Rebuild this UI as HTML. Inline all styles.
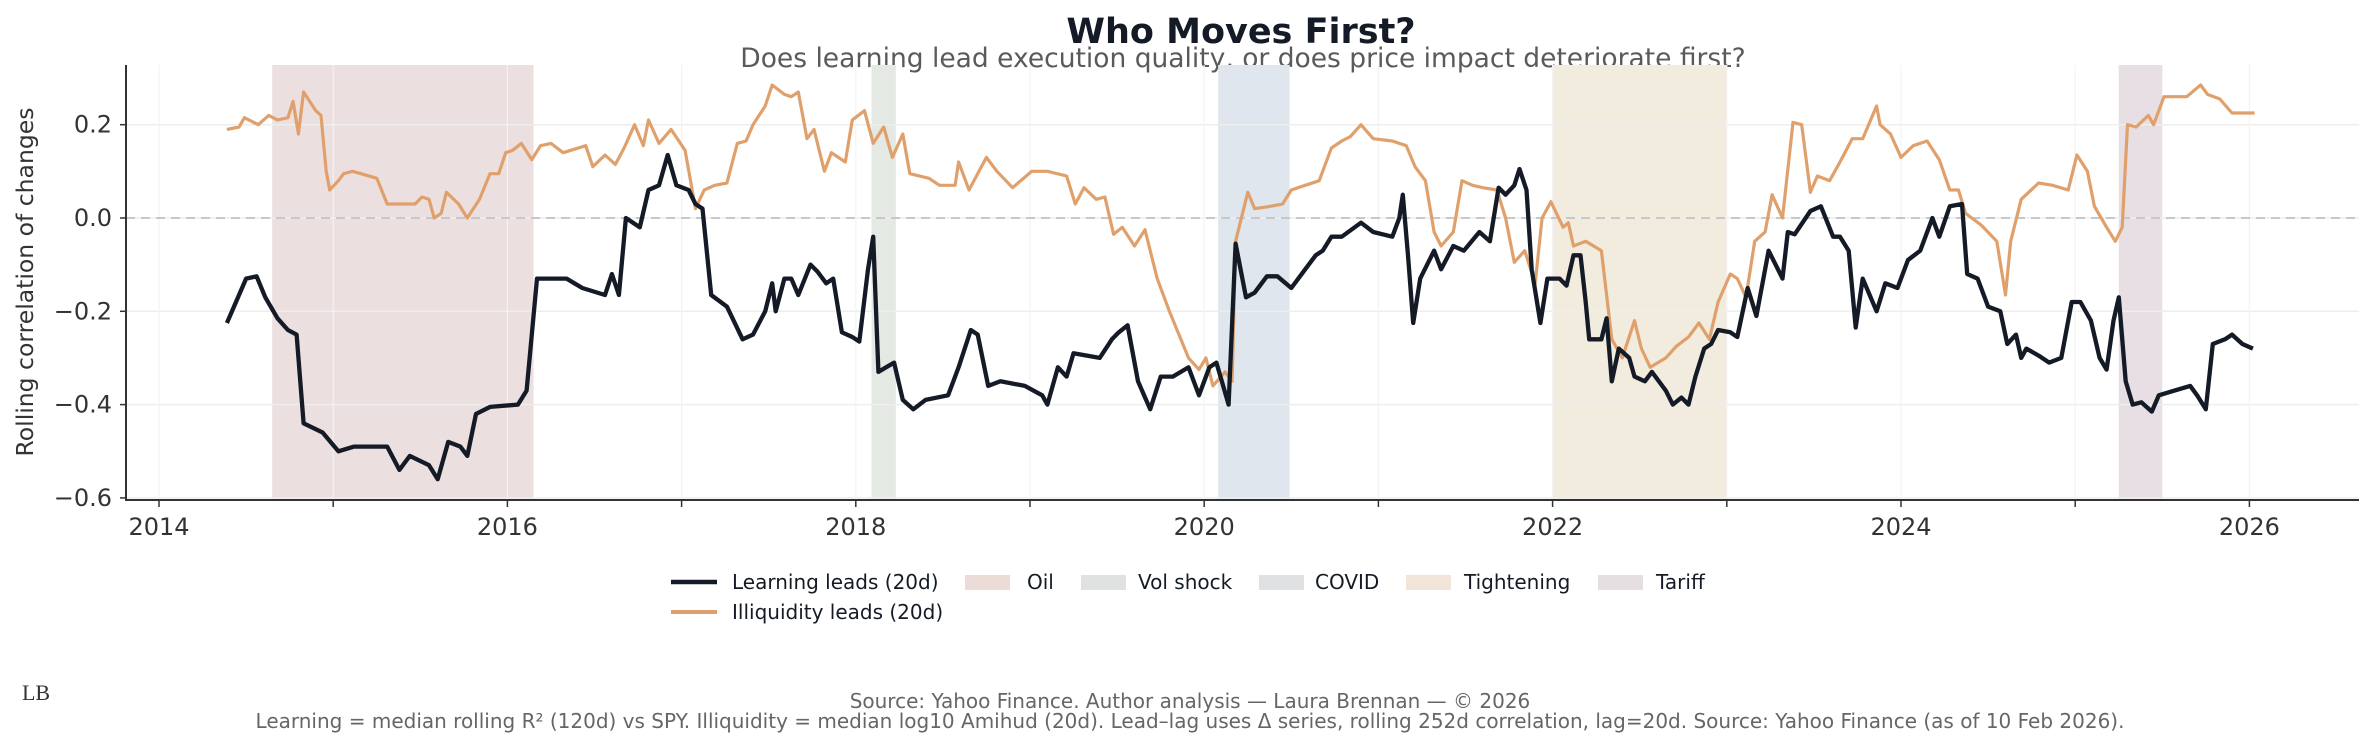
<!DOCTYPE html>
<html><head><meta charset="utf-8"><style>
html,body{margin:0;padding:0;background:#fff;}
svg{display:block;font-family:"DejaVu Sans","Liberation Sans",sans-serif;}
</style></head><body>
<svg id="chart" width="2376" height="746" viewBox="0 0 2376 746" xmlns="http://www.w3.org/2000/svg">
<rect width="2376" height="746" fill="#fff"/>
<text x="1241" y="43" text-anchor="middle" font-size="35" font-weight="bold" fill="#151b26">Who Moves First?</text>
<text x="1243" y="67" text-anchor="middle" font-size="26.5" fill="#5a5a5a">Does learning lead execution quality, or does price impact deteriorate first?</text>
<g id="shades"></g>
<g id="grid"></g>
<line x1="126" x2="2359" y1="218" y2="218" stroke="#c6c8cc" stroke-width="2" stroke-dasharray="9,6"/>
<g id="series"></g>
<line x1="126" x2="126" y1="65" y2="501" stroke="#333" stroke-width="2"/>
<line x1="125" x2="2359" y1="500" y2="500" stroke="#333" stroke-width="2"/>
<g id="yticks"></g>
<g id="xticks"></g>
<text transform="translate(33,282) rotate(-90)" text-anchor="middle" font-size="23.5" fill="#333">Rolling correlation of changes</text>
<g font-size="20" fill="#151b26">
 <g><line x1="671" x2="717" y1="582" y2="582" stroke="#151b26" stroke-width="4.5"/><text x="732" y="589">Learning leads (20d)</text></g>
 <g><line x1="671" x2="717" y1="612" y2="612" stroke="#e0a06c" stroke-width="4"/><text x="732" y="619">Illiquidity leads (20d)</text></g>
 <g><rect x="965" y="575" width="45" height="15" fill="#ecdcd7"/><text x="1027" y="589">Oil</text></g>
 <g><rect x="1081" y="575" width="45" height="15" fill="#e0e2e1"/><text x="1138" y="589">Vol shock</text></g>
 <g><rect x="1259" y="575" width="45" height="15" fill="#dfe1e2"/><text x="1315" y="589">COVID</text></g>
 <g><rect x="1406" y="575" width="45" height="15" fill="#f1e4d8"/><text x="1464" y="589">Tightening</text></g>
 <g><rect x="1598" y="575" width="45" height="15" fill="#e6dfe1"/><text x="1656" y="589">Tariff</text></g>
</g>
<text x="36" y="700" text-anchor="middle" font-family="Liberation Serif,serif" font-size="22" fill="#333">LB</text>
<text x="1190" y="708" text-anchor="middle" font-size="20" fill="#666">Source: Yahoo Finance. Author analysis — Laura Brennan — © 2026</text>
<text x="1190" y="728" text-anchor="middle" font-size="20" fill="#666">Learning = median rolling R² (120d) vs SPY. Illiquidity = median log10 Amihud (20d). Lead–lag uses Δ series, rolling 252d correlation, lag=20d. Source: Yahoo Finance (as of 10 Feb 2026).</text>
</svg>
<script>
const yTickValues=[-0.6,-0.4,-0.2,0.0,0.2];
const yTickLabels=["−0.6","−0.4","−0.2","0.0","0.2"];
const xTickYears=[2014,2015,2016,2017,2018,2019,2020,2021,2022,2023,2024,2025,2026];
const xLabelYears=[2014,2016,2018,2020,2022,2024,2026];
const eventNames=["oil","vol-shock","covid","tightening","tariff"];
const eventStarts=[2014.65,2018.09,2020.08,2022.0,2025.25];
const eventEnds=[2016.15,2018.23,2020.49,2023.0,2025.5];
const eventColors=["#ecdfdf","#e4e9e3","#dfe6ed","#f2ecdf","#e8dfe4"];
const learnYearsSince2014=[.39,.50,.56,.61,.68,.74,.79,.83,.94,1.03,1.12,1.31,1.38,1.44,1.55,1.60,1.66,1.73,1.77,1.82,1.90,2.06,2.11,2.17,2.34,2.43,2.56,2.60,2.64,2.68,2.76,2.81,2.87,2.92,2.97,3.04,3.08,3.12,3.17,3.26,3.35,3.41,3.48,3.52,3.54,3.59,3.63,3.67,3.74,3.78,3.83,3.87,3.92,3.98,4.02,4.07,4.10,4.13,4.22,4.27,4.33,4.40,4.53,4.59,4.66,4.70,4.76,4.83,4.97,5.07,5.10,5.16,5.21,5.25,5.40,5.47,5.51,5.56,5.62,5.69,5.75,5.82,5.91,5.97,6.03,6.07,6.14,6.18,6.24,6.29,6.36,6.42,6.50,6.58,6.64,6.68,6.73,6.79,6.90,6.97,7.08,7.12,7.14,7.17,7.20,7.24,7.32,7.36,7.43,7.49,7.58,7.64,7.69,7.73,7.78,7.81,7.85,7.88,7.93,7.97,8.04,8.08,8.12,8.16,8.19,8.21,8.28,8.31,8.34,8.38,8.44,8.47,8.53,8.57,8.65,8.69,8.74,8.78,8.82,8.87,8.91,8.95,9.02,9.06,9.12,9.17,9.24,9.30,9.32,9.35,9.39,9.48,9.54,9.61,9.65,9.70,9.74,9.78,9.86,9.91,9.98,10.04,10.11,10.18,10.22,10.28,10.35,10.38,10.44,10.50,10.57,10.61,10.66,10.69,10.72,10.79,10.85,10.92,10.98,11.03,11.09,11.14,11.18,11.22,11.25,11.29,11.33,11.38,11.44,11.48,11.57,11.66,11.70,11.75,11.79,11.86,11.90,11.96,12.02];
const learnValues=[-.225,-.13,-.125,-.17,-.215,-.24,-.25,-.44,-.46,-.5,-.49,-.49,-.54,-.51,-.53,-.56,-.48,-.49,-.51,-.42,-.405,-.4,-.37,-.13,-.13,-.15,-.165,-.12,-.165,0,-.02,.06,.07,.135,.07,.06,.03,.02,-.165,-.19,-.26,-.25,-.2,-.14,-.2,-.13,-.13,-.165,-.10,-.115,-.14,-.13,-.245,-.255,-.265,-.11,-.04,-.33,-.31,-.39,-.41,-.39,-.38,-.32,-.24,-.25,-.36,-.35,-.36,-.38,-.4,-.32,-.34,-.29,-.3,-.26,-.245,-.23,-.35,-.41,-.34,-.34,-.32,-.38,-.32,-.31,-.40,-.055,-.17,-.16,-.125,-.125,-.15,-.11,-.08,-.07,-.04,-.04,-.01,-.03,-.04,0,.05,-.08,-.225,-.13,-.07,-.11,-.06,-.07,-.03,-.05,.065,.05,.07,.105,.06,-.11,-.225,-.13,-.13,-.145,-.08,-.08,-.18,-.26,-.26,-.215,-.35,-.28,-.3,-.34,-.35,-.33,-.37,-.4,-.385,-.4,-.34,-.28,-.27,-.24,-.245,-.255,-.15,-.21,-.07,-.115,-.13,-.03,-.035,.015,.025,-.04,-.04,-.07,-.235,-.13,-.2,-.14,-.15,-.09,-.07,0,-.04,.025,.03,-.12,-.13,-.19,-.2,-.27,-.25,-.3,-.28,-.295,-.31,-.3,-.18,-.18,-.22,-.3,-.325,-.22,-.17,-.35,-.4,-.395,-.415,-.38,-.37,-.36,-.38,-.41,-.27,-.26,-.25,-.27,-.28];
const illiqYearsSince2014=[.39,.46,.49,.57,.63,.68,.74,.77,.80,.83,.90,.93,.96,.98,1.03,1.06,1.11,1.16,1.25,1.31,1.38,1.47,1.51,1.55,1.58,1.62,1.65,1.72,1.77,1.84,1.90,1.95,1.99,2.03,2.08,2.14,2.19,2.25,2.32,2.45,2.49,2.56,2.62,2.67,2.73,2.78,2.81,2.87,2.94,3.02,3.08,3.13,3.19,3.26,3.32,3.37,3.41,3.48,3.52,3.59,3.63,3.67,3.72,3.76,3.82,3.86,3.94,3.98,4.05,4.10,4.16,4.21,4.27,4.31,4.42,4.48,4.57,4.59,4.65,4.75,4.81,4.90,5.01,5.10,5.21,5.26,5.31,5.38,5.43,5.48,5.53,5.60,5.66,5.73,5.80,5.91,5.97,6.01,6.05,6.12,6.16,6.18,6.25,6.29,6.38,6.45,6.50,6.58,6.66,6.73,6.79,6.84,6.90,6.97,7.08,7.16,7.21,7.27,7.32,7.36,7.43,7.48,7.54,7.60,7.68,7.73,7.78,7.84,7.90,7.94,7.99,8.06,8.09,8.12,8.19,8.28,8.34,8.40,8.47,8.51,8.56,8.65,8.71,8.78,8.84,8.90,8.95,9.02,9.06,9.11,9.16,9.22,9.26,9.32,9.38,9.43,9.48,9.52,9.59,9.65,9.72,9.78,9.86,9.88,9.94,10.00,10.07,10.15,10.22,10.28,10.33,10.37,10.46,10.55,10.60,10.63,10.69,10.79,10.87,10.96,11.01,11.07,11.11,11.18,11.23,11.27,11.30,11.35,11.42,11.45,11.51,11.64,11.72,11.76,11.83,11.90,11.96,12.03];
const illiqValues=[.19,.195,.215,.2,.22,.21,.215,.25,.18,.27,.23,.22,.1,.06,.08,.095,.1,.095,.085,.03,.03,.03,.045,.04,0,.01,.055,.03,0,.04,.095,.095,.14,.145,.16,.125,.155,.16,.14,.155,.11,.135,.115,.15,.2,.155,.21,.16,.19,.145,.02,.06,.07,.075,.16,.165,.2,.24,.285,.265,.26,.27,.17,.19,.1,.14,.12,.21,.23,.16,.195,.13,.18,.095,.085,.07,.07,.12,.06,.13,.1,.065,.1,.1,.09,.03,.065,.04,.045,-.035,-.02,-.06,-.025,-.13,-.2,-.3,-.325,-.3,-.36,-.33,-.35,-.05,.055,.02,.025,.03,.06,.07,.08,.15,.165,.175,.2,.17,.165,.155,.11,.08,-.03,-.06,-.03,.08,.07,.065,.06,0,-.095,-.07,-.14,0,.035,-.02,-.01,-.06,-.05,-.07,-.26,-.3,-.22,-.28,-.32,-.3,-.275,-.255,-.225,-.26,-.18,-.12,-.13,-.17,-.05,-.03,.05,0,.205,.2,.055,.09,.08,.12,.17,.17,.24,.2,.18,.13,.155,.165,.125,.06,.06,.01,-.015,-.05,-.165,-.05,.04,.075,.07,.06,.135,.1,.025,-.02,-.05,-.02,.2,.195,.22,.2,.26,.26,.285,.265,.255,.225,.225,.225];

const NS="http://www.w3.org/2000/svg";
const X0=126,X1=2359,Y0=65,Y1=500;
function xScale(yr){return 159+(yr-2014)*174.2;}
function yScale(v){return 218-v*466.5;}
function mk(tag,attrs,parent){const e=document.createElementNS(NS,tag);for(const k in attrs)e.setAttribute(k,attrs[k]);parent.appendChild(e);return e;}

const shades=document.getElementById('shades');
eventNames.forEach((n,i)=>{
  const r=mk('rect',{x:xScale(eventStarts[i]),y:Y0,width:xScale(eventEnds[i])-xScale(eventStarts[i]),height:Y1-Y0,fill:eventColors[i]},shades);
  
  
});
const grid=document.getElementById('grid');
yTickValues.forEach(v=>{
  const l=mk('line',{x1:X0,x2:X1,y1:yScale(v),y2:yScale(v),stroke:'#eeeeee','stroke-width':1.5},grid);
  
  
});
xTickYears.forEach(y=>{
  const l=mk('line',{x1:xScale(y),x2:xScale(y),y1:Y0,y2:Y1,stroke:'#f3f3f3','stroke-width':1.2},grid);
  
  
});
const yt=document.getElementById('yticks');
yTickValues.forEach((v,i)=>{
  const t=mk('line',{x1:120,x2:126,y1:yScale(v),y2:yScale(v),stroke:'#333','stroke-width':1.5},yt);
  
  
  const tx=mk('text',{x:112,y:yScale(v)+8,'text-anchor':'end','font-size':24,fill:'#333'},yt);
  tx.textContent=yTickLabels[i];
  
  
});
const xt=document.getElementById('xticks');
xTickYears.forEach(y=>{
  const t=mk('line',{x1:xScale(y),x2:xScale(y),y1:500,y2:507,stroke:'#333','stroke-width':1.5},xt);
  
  
});
xLabelYears.forEach(y=>{
  const tx=mk('text',{x:xScale(y),y:535,'text-anchor':'middle','font-size':24,fill:'#333'},xt);
  tx.textContent=String(y);
  
  
});
function linePath(xs,vs){return xs.map((x,i)=>(i?'L':'M')+xScale(2014+x).toFixed(1)+','+yScale(vs[i]).toFixed(1)).join('');}
const ser=document.getElementById('series');
const p1=mk('path',{d:linePath(illiqYearsSince2014,illiqValues),fill:'none',stroke:'#e0a06c','stroke-width':3.2,'stroke-linejoin':'round'},ser);


const p2=mk('path',{d:linePath(learnYearsSince2014,learnValues),fill:'none',stroke:'#151b26','stroke-width':4.3,'stroke-linejoin':'round'},ser);


</script>
</body></html>
